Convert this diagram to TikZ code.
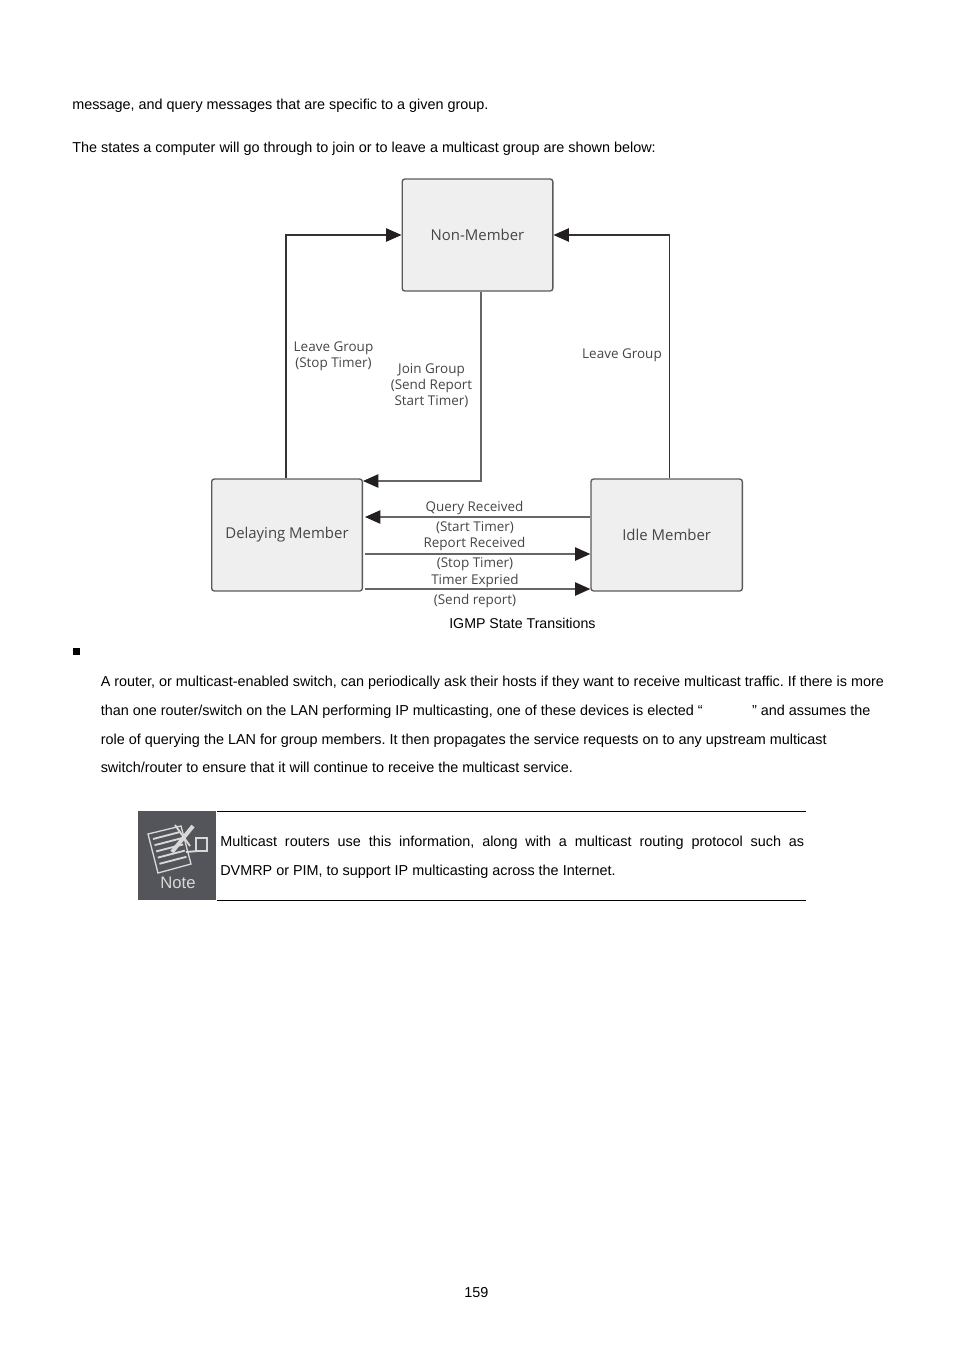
\documentclass[tikz,border=0pt]{standalone}
\usepackage{fontspec}
\setmainfont{Liberation Sans}
\newfontfamily\statefont{Open Sans}
\usepackage{xcolor}
\usetikzlibrary{arrows.meta, positioning}
\definecolor{boxfill}{HTML}{EFEFEF}
\definecolor{boxline}{HTML}{5A5A5A}
\definecolor{statetext}{HTML}{454545}
\definecolor{noteback}{HTML}{54555A}
\definecolor{noteline}{HTML}{D8D8D8}
\definecolor{tipcolor}{HTML}{231F20}
\frenchspacing
\tikzset{
  statebox/.style={rectangle, draw=boxline, fill=boxfill, rounded corners=2pt, line width=1pt,
                   minimum width=113pt, minimum height=84pt, inner sep=0pt,
                   text=statetext, font=\statefont\fontsize{11.2}{13}\selectfont},
  arrow/.style={-{Triangle[length=11.5pt, width=10pt, color=tipcolor]}, line width=0.8pt, draw=black!80},
  greyarrow/.style={-{Triangle[length=11.5pt, width=10pt, color=tipcolor]}, line width=1.1pt, draw=black!60},
  statelabel/.style={align=center, inner sep=0pt, text=statetext,
                     font=\statefont\fontsize{10.1}{12}\selectfont},
  pageline/.style={anchor=base west, inner sep=0pt, font=\fontsize{10.8}{13}\selectfont},
  notesheet/.style={draw=noteline, fill=noteback, line width=1pt},
}
\begin{document}
\begin{tikzpicture}[x=0.75pt, y=-0.75pt]
  \useasboundingbox (0,0) rectangle (954,1350);

  \node (intro1) [pageline] at (72,109) {message, and query messages that are specific to a given group.};
  \node (intro2) [pageline] at (72,152) {The states a computer will go through to join or to leave a multicast group are shown below:};

  \node (nonmember) [statebox] at (477.5,235) {Non-Member};
  \node (delaying) [statebox] at (287,535) {Delaying Member};
  \node (idle) [statebox, minimum width=113.5pt, right=170.5pt of delaying] {Idle Member};

  \coordinate (leavestart) at ([xshift=-0.75pt]delaying.north);
  \coordinate (joinstart) at ([xshift=2.6pt]nonmember.south);
  \coordinate (jointip) at (delaying.east |- 0,481);
  \coordinate (idleout) at ([xshift=2.2pt]idle.north);
  \coordinate (queryend) at (365,517);
  \coordinate (reportstart) at (365,554);
  \coordinate (expirestart) at (365,589);

  \draw[arrow] (leavestart) |- (nonmember.west);
  \draw[arrow] (idleout) |- (nonmember.east);
  \draw[greyarrow] (joinstart) |- (jointip);
  \draw[greyarrow] (idle.west |- queryend) -- (queryend);
  \draw[greyarrow] (reportstart) -- (idle.west |- reportstart);
  \draw[greyarrow] (expirestart) -- (idle.west |- expirestart);

  \node (leavestop) [statelabel] at (333.5,356.5) {Leave Group\\(Stop Timer)};
  \node (joinsend) [statelabel] at (431.5,385.5) {Join Group\\(Send Report\\Start Timer)};
  \node (leaveidle) [statelabel] at (622,355.5) {Leave Group};
  \node (queryrecv) [statelabel] at (474.5,508) {Query Received};
  \node (starttimer) [statelabel] at (475,528) {(Start Timer)};
  \node (reportrecv) [statelabel] at (474.5,544) {Report Received};
  \node (stoptimer) [statelabel] at (475,564) {(Stop Timer)};
  \node (timerexp) [statelabel] at (475,581) {Timer Expried};
  \node (sendrep) [statelabel] at (475,601) {(Send report)};

  \node (caption) [pageline, font=\fontsize{10.65}{13}\selectfont] at (449,628) {IGMP State Transitions};

  \node (bullet) [rectangle, fill=black, minimum size=5.6pt, inner sep=0pt] at (76.5,651.5) {};
  \node (para1) [pageline] at (100.5,686) {A router, or multicast-enabled switch, can periodically ask their hosts if they want to receive multicast traffic. If there is more};
  \node (para2) [pageline] at (100.5,715) {than one router/switch on the LAN performing IP multicasting, one of these devices is elected “\hspace{37pt}” and assumes the};
  \node (para3) [pageline] at (100.5,744) {role of querying the LAN for group members. It then propagates the service requests on to any upstream multicast};
  \node (para4) [pageline] at (100.5,772) {switch/router to ensure that it will continue to receive the multicast service.};

  % note icon
  \fill[noteback] (138,811) rectangle (216,900);
  \draw[notesheet] (148,834) -- (181,826) -- (191,864) -- (158,873) -- cycle;
  \foreach \i in {0,1,2,3,4}
    \draw[noteline, line width=1.4pt] (153+\i*1.6,839+\i*6.2) -- (180+\i*1.6,832+\i*6.2);
  \draw[noteline, line width=3pt] (172,852) -- (193,826);
  \draw[noteline, line width=1.4pt] (175,825) -- (190,846);
  \draw[noteline, fill=noteback, line width=1.2pt] (196,838) -- (207,838) -- (207,851) -- (196,851) -- cycle;
  \draw[noteline, line width=1.4pt] (186,852) -- (198,851);
  \node (notemark) [inner sep=0pt, text=noteline, font=\fontsize{12.5}{14}\selectfont] at (178,883) {Note};

  \draw[black, line width=0.6pt] (217,811) -- (806,811);
  \draw[black, line width=0.6pt] (217,900) -- (806,900);
  \node (note1) [pageline] at (220,846) {\makebox[438pt][s]{Multicast routers use this information, along with a multicast routing protocol such as}};
  \node (note2) [pageline] at (220,875) {DVMRP or PIM, to support IP multicasting across the Internet.};

  \node (pagenum) [pageline] at (464,1297) {159};
\end{tikzpicture}
\end{document}
